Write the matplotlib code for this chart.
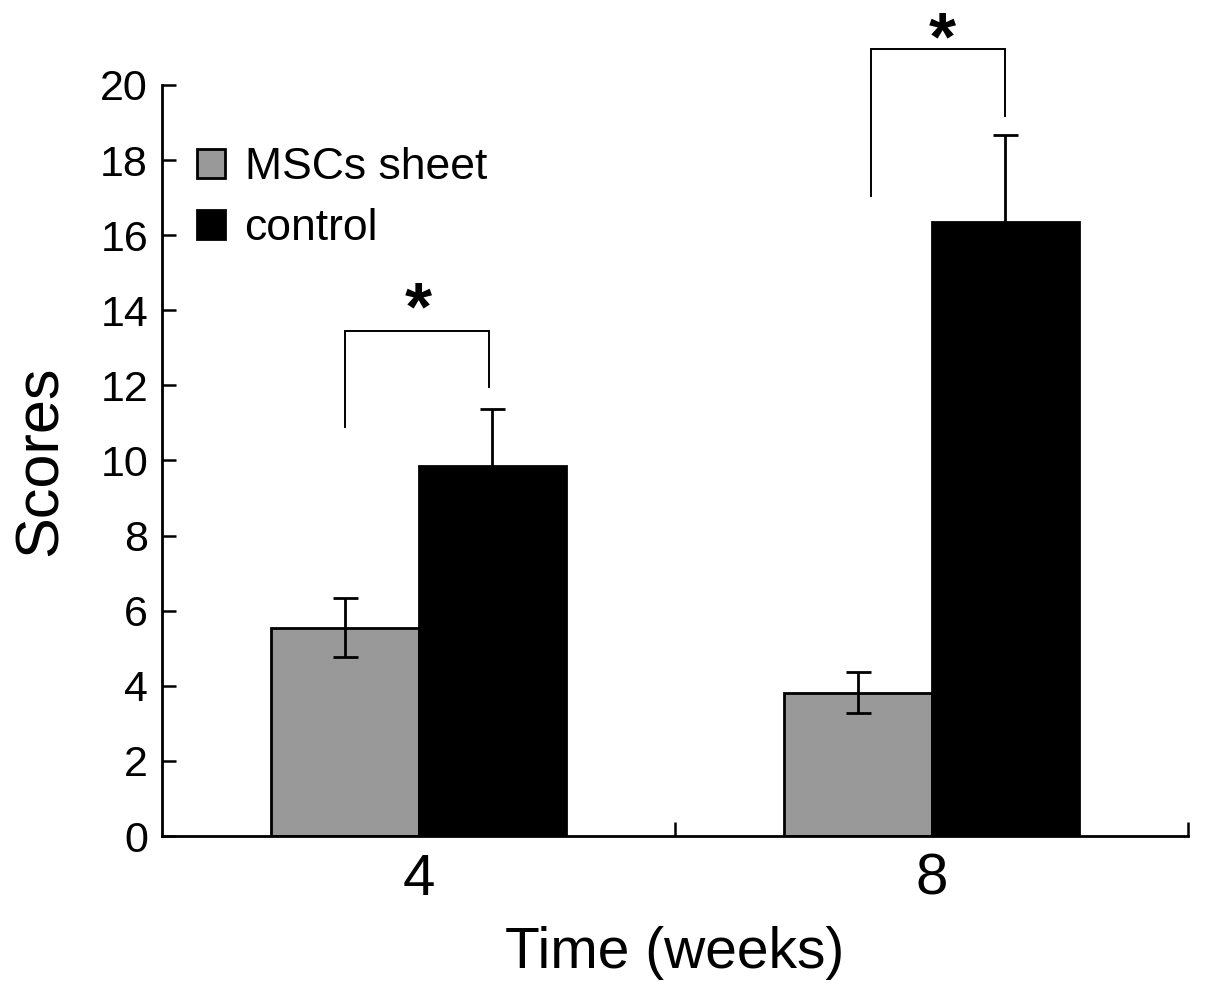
import matplotlib
matplotlib.use("Agg")
import matplotlib.pyplot as plt
from matplotlib.ticker import FixedLocator
import numpy as np

plt.rcParams['font.family'] = ['Liberation Sans', 'DejaVu Sans']

weeks = ['4', '8']
series_names = ['MSCs sheet', 'control']
msc_vals = [5.55, 3.82]
msc_err = [0.78, 0.54]
ctrl_vals = [9.85, 16.35]
ctrl_err = [1.52, 2.33]
y_ticks = [0, 2, 4, 6, 8, 10, 12, 14, 16, 18, 20]

fig = plt.figure(figsize=(12.05, 9.91), dpi=100)
ax = fig.add_axes([162/1205, 1-836/991, (1188-162)/1205, (836-85)/991])

x = np.arange(len(weeks))
w = 0.287
ax.bar(x - w/2, msc_vals, w, color='#999999', edgecolor='black', linewidth=2.0,
       label=series_names[0], zorder=2)
ax.bar(x + w/2, ctrl_vals, w, color='black', edgecolor='black', linewidth=2.0,
       label=series_names[1], zorder=2)
ax.errorbar(x - w/2, msc_vals, yerr=msc_err, fmt='none', ecolor='black',
            elinewidth=2.0, capsize=9, capthick=2.0, zorder=3)
ax.errorbar(x + w/2, ctrl_vals, yerr=ctrl_err, fmt='none', ecolor='black',
            elinewidth=2.0, capsize=9, capthick=2.0, zorder=3)

# significance brackets
brackets = [
    (x[0] - w/2, x[0] + w/2 - 0.006, 10.9, 13.45, 11.96, 0.0, 13.5),
    (x[1] - w/2 + 0.025, x[1] + w/2, 17.05, 20.97, 19.17, 1.02, 20.68),
]
for xl, xr, yl, ytop, yr, xs, ys in brackets:
    ax.plot([xl, xl, xr, xr], [yl, ytop, ytop, yr], color='black', lw=1.4,
            clip_on=False, solid_joinstyle='miter')
    ax.text(xs, ys, '*', ha='center', va='baseline', fontsize=50,
            fontweight='bold', clip_on=False)

ax.set_xlim(-0.5, 1.5)
ax.set_ylim(0, 20)
ax.set_yticks(y_ticks)
ax.set_xticks(x)
ax.set_xticklabels(weeks)
ax.xaxis.set_minor_locator(FixedLocator([0.5, 1.5]))

for s in ['top', 'right']:
    ax.spines[s].set_visible(False)
for s in ['left', 'bottom']:
    ax.spines[s].set_linewidth(2.0)

ax.tick_params(axis='y', direction='in', length=10, width=1.8, labelsize=31, pad=10)
ax.tick_params(axis='x', which='major', length=0, labelsize=42, pad=12)
ax.tick_params(axis='x', which='minor', direction='in', length=10, width=1.8)

ax.set_xlabel('Time (weeks)', fontsize=41, labelpad=14)
ax.set_ylabel('Scores', fontsize=44, labelpad=22)

leg = ax.legend(loc='upper left', bbox_to_anchor=(197/1205, 1-147/991),
                bbox_transform=fig.transFigure, frameon=False, fontsize=32,
                handlelength=0.62, handleheight=0.62, handletextpad=0.45,
                labelspacing=0.45, borderaxespad=0, borderpad=0)
for h in leg.legend_handles:
    h.set_linewidth(2.0)

fig.savefig('out.png', dpi=100)
